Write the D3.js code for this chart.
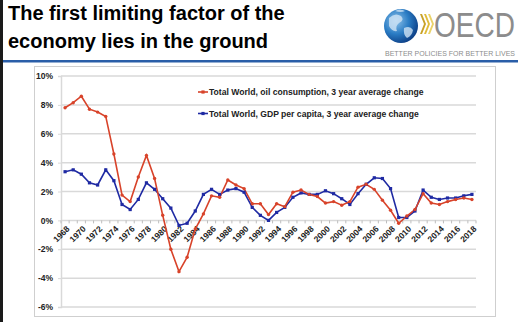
<!DOCTYPE html>
<html>
<head>
<meta charset="utf-8">
<script src="https://cdn.jsdelivr.net/npm/d3@7"></script>
<style>
  body { margin: 0; background: #fff; }
  svg { display: block; font-family: "Liberation Sans", Arial, sans-serif; }
</style>
</head>
<body>
<div id="chart"></div>
<script>
//// ============================================ DATA ============================================ ////

var years = d3.range(1968, 2019);

var oilChange = [7.8, 8.15, 8.6, 7.7, 7.5, 7.2, 4.6, 1.75, 1.3, 3.0,
    4.5, 2.9, 0.35, -2.0, -3.55, -2.55, -0.6, 0.45, 1.7, 1.6,
    2.8, 2.45, 2.2, 1.15, 1.15, 0.4, 1.15, 0.95, 1.95, 2.1,
    1.8, 1.65, 1.2, 1.3, 1.05, 1.3, 2.3, 2.5, 2.15, 1.4,
    0.7, -0.2, 0.3, 0.75, 1.85, 1.2, 1.1, 1.3, 1.45, 1.55, 1.45];

var gdpChange = [3.37, 3.5, 3.2, 2.6, 2.45, 3.5, 2.75, 1.1, 0.75, 1.45,
    2.6, 2.15, 1.5, 0.85, -0.35, -0.2, 0.65, 1.8, 2.15, 1.8,
    2.1, 2.2, 1.95, 0.9, 0.35, 0.0, 0.55, 0.9, 1.6, 1.9,
    1.8, 1.8, 2.05, 1.85, 1.5, 1.1, 1.85, 2.5, 2.95, 2.9,
    2.2, 0.2, 0.2, 0.65, 2.1, 1.6, 1.45, 1.55, 1.55, 1.7, 1.8];

var yTicks = [-6, -4, -2, 0, 2, 4, 6, 8, 10];

var seriesNames = ["Total World, oil consumption, 3 year average change",
    "Total World, GDP per capita, 3 year average change"];

var titleLines = ["The first limiting factor of the", "economy lies in the ground"];

//// ============================================ LAYOUT ============================================ ////

var width = 518;
var height = 322;

var svg = d3.select("#chart").append("svg")
    .attr("width", width)
    .attr("height", height);

var colorOil = "#d8432a";
var colorGdp = "#1f2aa3";
var colorGrid = "#d9d9d9";

// left dark edge
svg.append("rect")
    .attr("x", 0).attr("y", 0)
    .attr("width", 3).attr("height", height)
    .style("fill", "#1a1a1a");

// header
svg.selectAll(".title")
    .data(titleLines)
    .enter().append("text")
    .attr("class", "title")
    .attr("x", 8)
    .attr("y", function(d, i) { return 20 + i * 28; })
    .style("font-size", "20px")
    .style("font-weight", "bold")
    .style("fill", "#000")
    .text(function(d) { return d; });

svg.append("rect")
    .attr("x", 3).attr("y", 60)
    .attr("width", width - 3).attr("height", 2.5)
    .style("fill", "#2a5ea8");

//// ============================================ LOGO ============================================ ////

var logo = svg.append("g");

var globeGrad = svg.append("defs").append("radialGradient")
    .attr("id", "globe-grad")
    .attr("cx", "35%").attr("cy", "35%").attr("r", "70%");
globeGrad.selectAll("stop")
    .data([{ offset: "0%", color: "#8fc3ea" }, { offset: "55%", color: "#2a7cc4" }, { offset: "100%", color: "#0d3f86" }])
    .enter().append("stop")
    .attr("offset", function(d) { return d.offset; })
    .attr("stop-color", function(d) { return d.color; });

logo.append("circle")
    .attr("cx", 401).attr("cy", 26).attr("r", 17)
    .style("fill", "url(#globe-grad)");

logo.append("path")
    .attr("d", "M389,18 q6,-6 12,-2 q4,4 -2,7 q-4,3 -2,8 q-5,1 -8,-5 z M404,28 q6,-3 9,2 q-1,6 -6,8 q-4,-3 -3,-10 z M395,11 q5,-3 10,0 q-4,2 -10,0 z")
    .style("fill", "#cfe4f5")
    .style("opacity", 0.8);

[420, 424, 428].forEach(function(cx, i) {
    logo.append("path")
        .attr("d", "M" + cx + ",14 l4,10 l-4,10 l2,0 l4,-10 l-4,-10 z")
        .style("fill", ["#c9a227", "#e0bc3a", "#ead36a"][i]);
});

logo.append("text")
    .attr("transform", "translate(434,37) scale(1,1.22)")
    .style("font-size", "28px")
    .style("fill", "#8c8c8c")
    .text("OECD");

logo.append("text")
    .attr("x", 385).attr("y", 55.5)
    .attr("textLength", 130)
    .attr("lengthAdjust", "spacingAndGlyphs")
    .style("font-size", "6.8px")
    .style("fill", "#8c8c8c")
    .text("BETTER POLICIES FOR BETTER LIVES");

//// ============================================ CHART ============================================ ////

svg.append("rect")
    .attr("x", 34.5).attr("y", 66.5)
    .attr("width", 461).attr("height", 250)
    .style("fill", "#fff")
    .style("stroke", "#cfcfcf")
    .style("stroke-width", 1);

var plot = { left: 61, right: 476, top: 76, bottom: 307 };

var x = d3.scaleBand()
    .domain(years)
    .range([plot.left, plot.right])
    .padding(0);

var y = d3.scaleLinear()
    .domain([-6, 10])
    .range([plot.bottom, plot.top]);

function px(i) { return x(years[i]) + x.bandwidth() / 2; }

// gridlines
svg.append("g")
    .selectAll("line")
    .data(yTicks)
    .enter().append("line")
    .attr("x1", plot.left)
    .attr("x2", plot.right)
    .attr("y1", function(d) { return y(d); })
    .attr("y2", function(d) { return y(d); })
    .style("stroke", colorGrid)
    .style("stroke-width", 1.5);

// y axis
var yAxis = svg.append("g")
    .attr("transform", "translate(" + plot.left + ",0)")
    .call(d3.axisLeft(y).tickValues(yTicks).tickSize(3).tickFormat(function(d) { return d + "%"; }));
yAxis.select(".domain").style("stroke", colorGrid).style("stroke-width", 1.5);
yAxis.selectAll(".tick line").style("stroke", colorGrid);
yAxis.selectAll(".tick text")
    .attr("x", -8)
    .style("font-size", "8.5px")
    .style("font-weight", "bold")
    .style("font-family", "'Liberation Sans', Arial, sans-serif")
    .style("fill", "#222");

// x axis along 0%
var xAxis = svg.append("g")
    .attr("transform", "translate(0," + y(0) + ")");

xAxis.selectAll("line")
    .data(years.concat([2019]))
    .enter().append("line")
    .attr("x1", function(d, i) { return i < years.length ? x(d) : plot.right; })
    .attr("x2", function(d, i) { return i < years.length ? x(d) : plot.right; })
    .attr("y1", 0)
    .attr("y2", 3)
    .style("stroke", "#bdbdbd");

xAxis.selectAll("text")
    .data(years.filter(function(d) { return d % 2 === 0; }))
    .enter().append("text")
    .attr("transform", function(d) {
        return "translate(" + (x(d) + x.bandwidth() / 2 + 3) + ",7) rotate(-45)";
    })
    .attr("dy", "0.35em")
    .style("text-anchor", "end")
    .style("font-size", "8.5px")
    .style("font-weight", "bold")
    .style("fill", "#222")
    .text(function(d) { return d; });

//// ============================================ LINES ============================================ ////

var line = d3.line()
    .x(function(d, i) { return px(i); })
    .y(function(d) { return y(d); });

svg.append("path")
    .datum(gdpChange)
    .attr("d", line)
    .style("fill", "none")
    .style("stroke", colorGdp)
    .style("stroke-width", 1.6);

svg.append("path")
    .datum(oilChange)
    .attr("d", line)
    .style("fill", "none")
    .style("stroke", colorOil)
    .style("stroke-width", 1.6);

svg.append("g")
    .selectAll("rect")
    .data(gdpChange)
    .enter().append("rect")
    .attr("x", function(d, i) { return px(i) - 1.6; })
    .attr("y", function(d) { return y(d) - 1.6; })
    .attr("width", 3.2)
    .attr("height", 3.2)
    .style("fill", colorGdp);

svg.append("g")
    .selectAll("circle")
    .data(oilChange)
    .enter().append("circle")
    .attr("cx", function(d, i) { return px(i); })
    .attr("cy", function(d) { return y(d); })
    .attr("r", 1.7)
    .style("fill", colorOil);

//// ============================================ LEGEND ============================================ ////

var legend = svg.append("g")
    .selectAll("g")
    .data([{ name: seriesNames[0], color: colorOil, square: false }, { name: seriesNames[1], color: colorGdp, square: true }])
    .enter().append("g")
    .attr("transform", function(d, i) { return "translate(198," + (92 + i * 21.5) + ")"; });

legend.append("line")
    .attr("x1", 0).attr("x2", 10)
    .style("stroke", function(d) { return d.color; })
    .style("stroke-width", 1.6);

legend.append("rect")
    .attr("x", 3.4).attr("y", -1.6)
    .attr("width", 3.2).attr("height", 3.2)
    .style("fill", function(d) { return d.color; });

legend.append("text")
    .attr("x", 11)
    .attr("dy", "0.35em")
    .style("font-size", "8.6px")
    .style("font-weight", "bold")
    .style("fill", "#222")
    .text(function(d) { return d.name; });
</script>
</body>
</html>
